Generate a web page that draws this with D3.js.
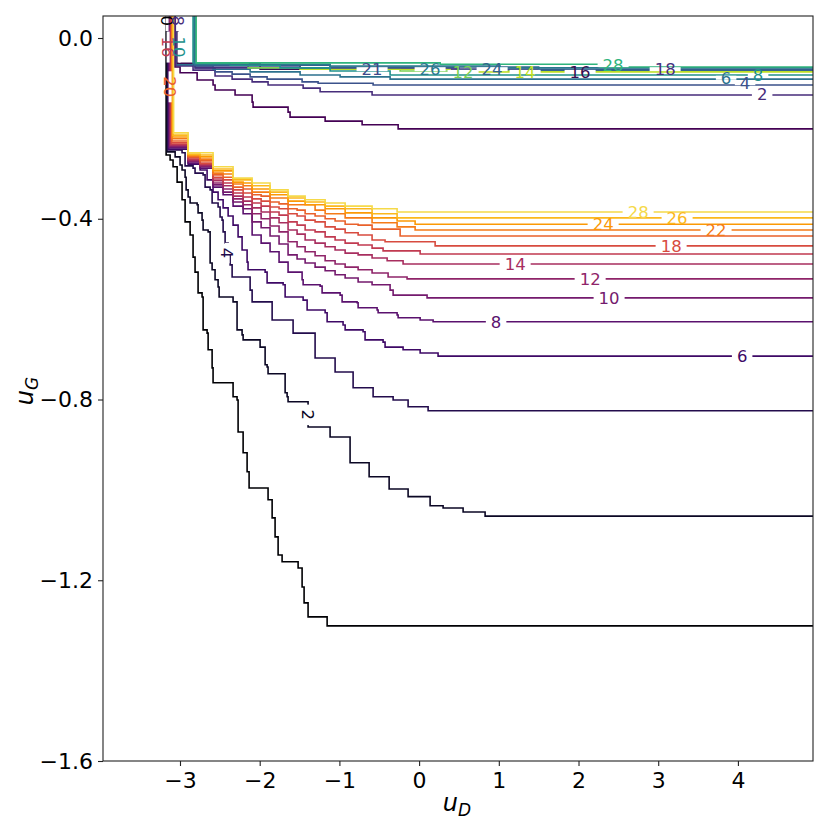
<!DOCTYPE html>
<html>
<head>
<meta charset="utf-8">
<script src="https://cdn.jsdelivr.net/npm/d3@7"></script>
<style>
  body { margin: 0; background: #fff; }
  svg { font-family: "DejaVu Sans", sans-serif; }
</style>
</head>
<body>
<svg id="chart" width="830" height="830"></svg>
<script>
// axis ticks
const xTicks = [-3, -2, -1, 0, 1, 2, 3, 4];
const yTicks = [0, -0.4, -0.8, -1.2, -1.6];

// lower contour family (inferno), points are step corners [u_D, u_G]
const lowerC0 = [[-3.174,0.06],[-3.174,-0.259],[-3.124,-0.270],[-3.087,-0.285],[-3.036,-0.319],[-2.974,-0.358],[-2.936,-0.407],[-2.873,-0.436],[-2.836,-0.485],[-2.811,-0.518],[-2.773,-0.564],[-2.723,-0.573],[-2.710,-0.646],[-2.660,-0.653],[-2.647,-0.690],[-2.597,-0.730],[-2.585,-0.763],[-2.334,-0.794],[-2.284,-0.801],[-2.271,-0.872],[-2.208,-0.918],[-2.158,-0.923],[-2.158,-0.960],[-2.133,-0.962],[-2.133,-0.996],[-1.895,-1.022],[-1.844,-1.062],[-1.807,-1.104],[-1.769,-1.144],[-1.719,-1.159],[-1.518,-1.173],[-1.468,-1.215],[-1.443,-1.250],[-1.393,-1.281],[-1.154,-1.301],[5.0,-1.301]];
const lowerC2 = [[-3.162,0.06],[-3.162,-0.252],[-3.061,-0.263],[-2.999,-0.281],[-2.974,-0.292],[-2.936,-0.308],[-2.923,-0.336],[-2.898,-0.352],[-2.873,-0.365],[-2.785,-0.369],[-2.773,-0.387],[-2.723,-0.403],[-2.710,-0.425],[-2.647,-0.429],[-2.622,-0.462],[-2.622,-0.498],[-2.597,-0.513],[-2.560,-0.535],[-2.522,-0.551],[-2.509,-0.573],[-2.334,-0.584],[-2.284,-0.646],[-2.221,-0.657],[-2.208,-0.668],[-1.995,-0.684],[-1.932,-0.723],[-1.907,-0.728],[-1.895,-0.743],[-1.681,-0.785],[-1.656,-0.794],[-1.644,-0.805],[-1.393,-0.861],[-1.117,-0.883],[-0.866,-0.940],[-0.627,-0.971],[-0.376,-0.998],[-0.138,-1.015],[0.138,-1.035],[0.301,-1.040],[0.552,-1.049],[0.828,-1.058],[5.0,-1.058]];
const lowerC4 = [[-3.149,0.06],[-3.149,-0.248],[-2.974,-0.254],[-2.936,-0.283],[-2.836,-0.288],[-2.811,-0.299],[-2.710,-0.303],[-2.685,-0.330],[-2.622,-0.336],[-2.597,-0.365],[-2.522,-0.374],[-2.497,-0.396],[-2.472,-0.403],[-2.459,-0.429],[-2.434,-0.454],[-2.396,-0.480],[-2.371,-0.502],[-2.346,-0.529],[-2.120,-0.558],[-2.095,-0.584],[-1.844,-0.624],[-1.581,-0.653],[-1.305,-0.708],[-1.054,-0.739],[-0.828,-0.774],[-0.577,-0.794],[-0.326,-0.801],[-0.138,-0.816],[0.113,-0.825],[5.0,-0.825]];
const lowerC6 = [[-3.143,0.06],[-3.143,-0.246],[-2.898,-0.279],[-2.748,-0.292],[-2.660,-0.314],[-2.585,-0.341],[-2.522,-0.358],[-2.459,-0.376],[-2.396,-0.394],[-2.334,-0.414],[-2.271,-0.440],[-2.221,-0.469],[-2.158,-0.496],[-2.146,-0.513],[-1.932,-0.518],[-1.907,-0.542],[-1.706,-0.546],[-1.681,-0.573],[-1.455,-0.580],[-1.405,-0.602],[-1.179,-0.608],[-1.154,-0.628],[-0.954,-0.635],[-0.928,-0.646],[-0.703,-0.650],[-0.678,-0.668],[-0.452,-0.673],[-0.427,-0.684],[-0.201,-0.690],[0.013,-0.697],[0.238,-0.704],[5.0,-0.704]];
const lowerC8 = [[-3.137,0.06],[-3.137,-0.243],[-2.898,-0.277],[-2.748,-0.288],[-2.585,-0.330],[-2.459,-0.347],[-2.334,-0.372],[-2.208,-0.389],[-2.095,-0.436],[-1.982,-0.454],[-1.870,-0.473],[-1.757,-0.496],[-1.644,-0.518],[-1.468,-0.535],[-1.455,-0.546],[-1.242,-0.549],[-1.217,-0.564],[-0.991,-0.569],[-0.966,-0.584],[-0.778,-0.586],[-0.765,-0.597],[-0.527,-0.602],[-0.514,-0.608],[-0.276,-0.613],[-0.263,-0.619],[0.013,-0.624],[0.176,-0.628],[5.0,-0.628]];
const lowerC10 = [[-3.130,0.06],[-3.130,-0.241],[-2.898,-0.274],[-2.748,-0.285],[-2.585,-0.325],[-2.459,-0.341],[-2.334,-0.363],[-2.208,-0.378],[-2.095,-0.407],[-1.982,-0.420],[-1.870,-0.438],[-1.757,-0.456],[-1.644,-0.480],[-1.531,-0.489],[-1.430,-0.498],[-1.305,-0.507],[-1.179,-0.515],[-1.054,-0.524],[-0.928,-0.531],[-0.765,-0.540],[-0.590,-0.546],[-0.364,-0.558],[-0.326,-0.569],[0.100,-0.575],[5.0,-0.575]];
const lowerC12 = [[-3.124,0.06],[-3.124,-0.239],[-2.898,-0.272],[-2.748,-0.283],[-2.585,-0.321],[-2.459,-0.334],[-2.334,-0.356],[-2.208,-0.369],[-2.095,-0.389],[-1.982,-0.400],[-1.870,-0.416],[-1.757,-0.429],[-1.644,-0.451],[-1.531,-0.462],[-1.430,-0.473],[-1.305,-0.482],[-1.179,-0.493],[-1.054,-0.500],[-0.928,-0.507],[-0.765,-0.513],[-0.590,-0.520],[-0.389,-0.529],[-0.151,-0.533],[5.0,-0.533]];
const lowerC14 = [[-3.118,0.06],[-3.118,-0.237],[-2.898,-0.270],[-2.748,-0.281],[-2.585,-0.316],[-2.459,-0.327],[-2.334,-0.350],[-2.208,-0.361],[-2.095,-0.376],[-1.982,-0.385],[-1.870,-0.398],[-1.757,-0.409],[-1.644,-0.425],[-1.531,-0.434],[-1.430,-0.447],[-1.305,-0.454],[-1.179,-0.462],[-1.054,-0.469],[-0.928,-0.476],[-0.765,-0.480],[-0.590,-0.487],[-0.401,-0.493],[-0.201,-0.500],[5.0,-0.500]];
const lowerC16 = [[-3.112,0.06],[-3.112,-0.235],[-2.898,-0.268],[-2.748,-0.279],[-2.585,-0.312],[-2.459,-0.321],[-2.334,-0.343],[-2.208,-0.352],[-2.095,-0.365],[-1.982,-0.372],[-1.870,-0.385],[-1.757,-0.392],[-1.644,-0.407],[-1.531,-0.414],[-1.430,-0.425],[-1.305,-0.429],[-1.179,-0.440],[-1.054,-0.447],[-0.928,-0.454],[-0.765,-0.458],[-0.590,-0.465],[-0.452,-0.471],[0.013,-0.478],[5.0,-0.478]];
const lowerC18 = [[-3.105,0.06],[-3.105,-0.232],[-2.898,-0.265],[-2.748,-0.277],[-2.585,-0.308],[-2.459,-0.314],[-2.334,-0.336],[-2.208,-0.343],[-2.095,-0.356],[-1.982,-0.361],[-1.870,-0.374],[-1.757,-0.378],[-1.644,-0.389],[-1.531,-0.394],[-1.430,-0.403],[-1.305,-0.407],[-1.179,-0.418],[-1.054,-0.423],[-0.928,-0.431],[-0.765,-0.436],[-0.590,-0.447],[-0.427,-0.451],[0.201,-0.460],[5.0,-0.460]];
const lowerC20 = [[-3.102,0.06],[-3.102,-0.228],[-2.898,-0.263],[-2.748,-0.272],[-2.585,-0.303],[-2.459,-0.308],[-2.334,-0.330],[-2.208,-0.334],[-2.095,-0.347],[-1.982,-0.350],[-1.870,-0.363],[-1.757,-0.367],[-1.644,-0.378],[-1.531,-0.381],[-1.430,-0.389],[-1.305,-0.394],[-1.179,-0.400],[-1.054,-0.405],[-0.928,-0.412],[-0.765,-0.414],[-0.590,-0.423],[-0.238,-0.438],[5.0,-0.438]];
const lowerC22 = [[-3.099,0.06],[-3.099,-0.223],[-2.898,-0.261],[-2.748,-0.268],[-2.585,-0.299],[-2.459,-0.301],[-2.334,-0.323],[-2.208,-0.327],[-2.095,-0.341],[-1.870,-0.354],[-1.644,-0.369],[-1.305,-0.381],[-1.179,-0.389],[-0.928,-0.398],[-0.590,-0.409],[-0.276,-0.418],[-0.050,-0.425],[5.0,-0.425]];
const lowerC24 = [[-3.093,0.06],[-3.093,-0.219],[-2.898,-0.259],[-2.748,-0.263],[-2.585,-0.294],[-2.334,-0.319],[-2.208,-0.321],[-2.095,-0.334],[-1.870,-0.347],[-1.644,-0.361],[-1.430,-0.369],[-1.179,-0.378],[-0.928,-0.387],[-0.590,-0.398],[-0.276,-0.405],[-0.050,-0.412],[5.0,-0.412]];
const lowerC26 = [[-3.087,0.06],[-3.087,-0.215],[-2.898,-0.257],[-2.748,-0.259],[-2.585,-0.290],[-2.334,-0.314],[-2.095,-0.327],[-1.870,-0.341],[-1.644,-0.354],[-1.430,-0.363],[-1.179,-0.372],[-0.928,-0.378],[-0.590,-0.389],[-0.276,-0.398],[5.0,-0.398]];
const lowerC28 = [[-3.080,0.06],[-3.080,-0.210],[-2.898,-0.254],[-2.585,-0.285],[-2.334,-0.310],[-2.095,-0.321],[-1.870,-0.336],[-1.644,-0.350],[-1.430,-0.358],[-1.179,-0.365],[-0.928,-0.372],[-0.590,-0.378],[-0.276,-0.385],[5.0,-0.385]];
const lowerLevels = [0, 2, 4, 6, 8, 10, 12, 14, 16, 18, 20, 22, 24, 26, 28];
const lowerPaths = [lowerC0, lowerC2, lowerC4, lowerC6, lowerC8, lowerC10, lowerC12, lowerC14, lowerC16, lowerC18, lowerC20, lowerC22, lowerC24, lowerC26, lowerC28];

// upper contour family (viridis colours), drawn in this order
const upperU0 = [[-3.061,0.06],[-3.061,-0.064],[-2.999,-0.077],[-2.785,-0.093],[-2.585,-0.104],[-2.560,-0.115],[-2.309,-0.126],[-2.095,-0.142],[-2.083,-0.153],[-1.644,-0.164],[-1.619,-0.175],[-1.179,-0.184],[-0.715,-0.192],[-0.263,-0.201],[5.0,-0.201]];
const upperU2 = [[-3.049,0.06],[-3.049,-0.062],[-2.836,-0.071],[-2.560,-0.084],[-2.346,-0.091],[-2.095,-0.097],[-1.895,-0.104],[-1.455,-0.111],[-1.242,-0.119],[-0.590,-0.126],[5.0,-0.126]];
const upperU4 = [[-3.036,0.06],[-3.036,-0.060],[-2.811,-0.066],[-2.560,-0.075],[-2.346,-0.080],[-2.120,-0.086],[-1.907,-0.091],[-1.468,-0.097],[-1.267,-0.100],[-0.577,-0.104],[5.0,-0.104]];
const upperU6 = [[-3.024,0.06],[-3.024,-0.058],[-2.811,-0.062],[-2.585,-0.069],[-2.120,-0.075],[-1.493,-0.082],[-0.991,-0.086],[-0.364,-0.091],[5.0,-0.091]];
const upperU16 = [[-3.030,0.06],[-3.030,-0.056],[-2.811,-0.057],[-1.995,-0.069],[0.500,-0.073],[5.0,-0.073]];
const upperU18 = [[-2.810,0.06],[-2.810,-0.066],[-1.000,-0.069],[1.500,-0.071],[5.0,-0.071]];
const upperU12 = [[-2.805,0.06],[-2.805,-0.057],[-2.146,-0.066],[-0.238,-0.073],[5.0,-0.075]];
const upperU14 = [[-2.805,0.06],[-2.805,-0.060],[-1.493,-0.069],[0.389,-0.075],[5.0,-0.077]];
const upperU21 = [[-2.823,0.06],[-2.823,-0.062],[-1.493,-0.066],[0.500,-0.069],[5.0,-0.069]];
const upperU24 = [[-2.817,0.06],[-2.817,-0.060],[-1.117,-0.064],[1.500,-0.071],[5.0,-0.071]];
const upperU8 = [[-2.836,0.06],[-2.836,-0.055],[-2.371,-0.060],[-1.744,-0.066],[-1.117,-0.073],[-0.364,-0.082],[5.0,-0.082]];
const upperU26 = [[-2.811,0.06],[-2.811,-0.058],[-1.117,-0.062],[1.017,-0.066],[5.0,-0.066]];
const upperU28 = [[-2.798,0.06],[-2.798,-0.055],[0.264,-0.058],[2.271,-0.064],[5.0,-0.064]];
const upperNames = ['0', '2', '4', '6', '16', '18', '12', '14', '21', '24', '8', '26', '28'];
const upperPaths = [upperU0, upperU2, upperU4, upperU6, upperU16, upperU18, upperU12, upperU14, upperU21, upperU24, upperU8, upperU26, upperU28];
const upperColors = ['#440154', '#472d7b', '#3b528b', '#2c728e', '#3b0f50', '#46317e', '#7ad151', '#bddf26', '#3e4a89', '#33638d', '#21918c', '#2a788e', '#2fb47c'];

// inline contour labels
const lowerLabelText = ['28', '26', '24', '22', '18', '14', '12', '10', '8', '6', '4', '2'];
const lowerLabelX = [2.748, 3.237, 2.309, 3.726, 3.162, 1.205, 2.146, 2.384, 0.966, 4.053, -2.409, -1.393];
const lowerLabelY = [-0.385, -0.398, -0.412, -0.425, -0.460, -0.500, -0.533, -0.575, -0.628, -0.704, -0.476, -0.834];
const lowerLabelAngle = [0, 0, 0, 0, 0, 0, 0, 0, 0, 0, 90, 90];

const upperLabelText = ['21', '26', '12', '24', '14', '16', '28', '18', '6', '4', '8', '2'];
const upperLabelX = [-0.590, 0.138, 0.552, 0.916, 1.330, 2.020, 2.434, 3.087, 3.852, 4.090, 4.253, 4.304];
const upperLabelY = [-0.069, -0.069, -0.075, -0.069, -0.075, -0.075, -0.060, -0.069, -0.088, -0.100, -0.082, -0.124];

const edgeLabelText = ['0', '8', '16', '10', '20'];
const edgeLabelX = [-3.162, -3.030, -3.149, -3.011, -3.124];
const edgeLabelY = [0.038, 0.038, -0.020, -0.020, -0.108];

const W = 830, H = 830;
const margin = {left: 103, top: 16, right: 17, bottom: 69};
const svg = d3.select('#chart');

const x = d3.scaleLinear().domain([-3.966, 4.942]).range([margin.left, W - margin.right]);
const y = d3.scaleLinear().domain([-1.6, 0.0487]).range([H - margin.bottom, margin.top]);

const lowerColor = l => d3.interpolateInferno(l / 31);
const upperColor = name => upperColors[upperNames.indexOf(name)];

svg.append('defs').append('clipPath').attr('id', 'plot-clip')
  .append('rect')
  .attr('x', margin.left).attr('y', margin.top)
  .attr('width', W - margin.left - margin.right)
  .attr('height', H - margin.top - margin.bottom);

const line = d3.line()
  .x(d => x(d[0]))
  .y(d => y(d[1]))
  .curve(d3.curveStepAfter);

const plot = svg.append('g').attr('clip-path', 'url(#plot-clip)');

plot.append('g').selectAll('path').data(lowerPaths).enter().append('path')
  .attr('d', line)
  .attr('fill', 'none')
  .attr('stroke', (d, i) => lowerColor(lowerLevels[i]))
  .attr('stroke-width', 1.6);

plot.append('g').selectAll('path').data(upperPaths).enter().append('path')
  .attr('d', line)
  .attr('fill', 'none')
  .attr('stroke', (d, i) => upperColors[i])
  .attr('stroke-width', 1.6);

const labels = plot.append('g');

function addLabel(text, xv, yv, angle, color, gap) {
  const g = labels.append('g')
    .attr('transform', `translate(${x(xv)},${y(yv)}) rotate(${angle})`);
  const rect = g.append('rect').attr('fill', '#fff');
  const t = g.append('text')
    .attr('text-anchor', 'middle')
    .attr('dy', '0.36em')
    .attr('font-size', 16.5)
    .attr('fill', color)
    .text(text);
  const w = t.node().getComputedTextLength();
  rect.attr('x', -w / 2 - 5).attr('y', -gap / 2).attr('width', w + 10).attr('height', gap);
}

lowerLabelText.forEach((t, i) => addLabel(t, lowerLabelX[i], lowerLabelY[i], lowerLabelAngle[i], lowerColor(+t), 5));
upperLabelText.forEach((t, i) => addLabel(t, upperLabelX[i], upperLabelY[i], 0, upperColor(t), 4));
const edgeColors = ['#000004', '#472d7b', lowerColor(16), '#21918c', lowerColor(20)];
edgeLabelText.forEach((t, i) => addLabel(t, edgeLabelX[i], edgeLabelY[i], 90, edgeColors[i], 3));

// axes
const xAxis = d3.axisBottom(x).tickValues(xTicks).tickSize(5).tickSizeOuter(0).tickPadding(6)
  .tickFormat(d3.format('d'));
const yAxis = d3.axisLeft(y).tickValues(yTicks).tickSize(5).tickSizeOuter(0).tickPadding(5)
  .tickFormat(d3.format('.1f'));

const gx = svg.append('g').attr('transform', `translate(0,${H - margin.bottom})`).call(xAxis);
const gy = svg.append('g').attr('transform', `translate(${margin.left},0)`).call(yAxis);
[gx, gy].forEach(g => {
  g.select('.domain').remove();
  g.selectAll('.tick line').attr('stroke', '#222').attr('stroke-width', 1.1);
  g.selectAll('.tick text').attr('font-size', 22).attr('fill', '#000')
    .attr('font-family', '"DejaVu Sans", sans-serif');
});

svg.append('rect')
  .attr('x', margin.left).attr('y', margin.top)
  .attr('width', W - margin.left - margin.right)
  .attr('height', H - margin.top - margin.bottom)
  .attr('fill', 'none').attr('stroke', '#222').attr('stroke-width', 1.1);

// axis titles
const xt = svg.append('text').attr('x', 457).attr('y', 811).attr('text-anchor', 'middle')
  .attr('font-size', 24);
xt.append('tspan').attr('font-style', 'italic').text('u');
xt.append('tspan').attr('font-style', 'italic').attr('font-size', 17).attr('dy', 5).text('D');

const yt = svg.append('text').attr('transform', 'translate(33,391) rotate(-90)')
  .attr('text-anchor', 'middle').attr('font-size', 24);
yt.append('tspan').attr('font-style', 'italic').text('u');
yt.append('tspan').attr('font-style', 'italic').attr('font-size', 17).attr('dy', 5).text('G');
</script>
</body>
</html>
